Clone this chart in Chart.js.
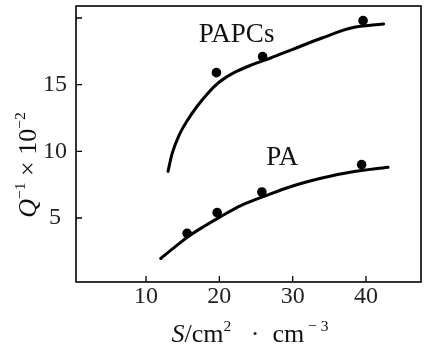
<!DOCTYPE html>
<html>
<head>
<meta charset="utf-8">
<script src="https://cdn.jsdelivr.net/npm/chart.js@4.4.0/dist/chart.umd.min.js"></script>
<style>
    html, body { margin: 0; padding: 0; background: #fff; }
    canvas { display: block; }
</style>
</head>
<body>
<canvas id="chart" width="426" height="345"></canvas>
<script>
// measured points
const papcsX = [19.6, 25.9, 39.6];
const papcsY = [15.9, 17.1, 19.8];
const paX = [15.6, 19.7, 25.8, 39.4];
const paY = [3.85, 5.4, 6.95, 9.0];

// fitted curves
const papcsCurveX = [13.0, 13.6, 14.5, 15.5, 17.0, 18.5, 20.0, 22.0, 24.5, 27.0, 30.0, 34.0, 38.0, 42.4];
const papcsCurveY = [8.5, 9.9, 11.2, 12.2, 13.4, 14.4, 15.2, 15.9, 16.5, 17.0, 17.65, 18.5, 19.25, 19.55];
const paCurveX = [12.0, 14.0, 16.0, 18.0, 20.0, 23.0, 26.0, 30.0, 34.0, 38.0, 43.0];
const paCurveY = [1.96, 2.85, 3.7, 4.4, 5.05, 5.95, 6.6, 7.4, 8.0, 8.45, 8.8];

// axes
const xTicks = [10, 20, 30, 40];
const yTicks = [5, 10, 15, 20];
const yTickLabels = ['5', '10', '15', ''];

const SERIF = '"Liberation Serif", "DejaVu Serif", serif';

function toPoints(xs, ys) {
    return xs.map((x, i) => ({ x: x, y: ys[i] }));
}

// text made of pieces: italic letters and raised exponents
function drawRichText(ctx, parts, size) {
    const fontOf = p => (p.it ? 'italic ' : '') + (p.sup ? size * 0.6 : size) + 'px ' + SERIF;
    let total = 0;
    parts.forEach(p => { ctx.font = fontOf(p); total += ctx.measureText(p.t).width; });
    let x = -total / 2;
    parts.forEach(p => {
        ctx.font = fontOf(p);
        ctx.fillText(p.t, x, p.sup ? -size * 0.42 : 0);
        x += ctx.measureText(p.t).width;
    });
}

// frame, inward ticks, curve names and axis titles
const decorations = {
    id: 'decorations',
    beforeDraw(chart) {
        const ctx = chart.ctx;
        ctx.save();
        ctx.fillStyle = '#fff';
        ctx.fillRect(0, 0, chart.width, chart.height);
        ctx.restore();
    },
    afterDraw(chart) {
        const ctx = chart.ctx;
        const a = chart.chartArea;
        const xs = chart.scales.x;
        const ys = chart.scales.y;
        ctx.save();
        ctx.strokeStyle = '#000';
        ctx.lineWidth = 1.6;
        ctx.strokeRect(a.left, a.top, a.right - a.left, a.bottom - a.top);

        ctx.lineWidth = 1.3;
        ctx.beginPath();
        xTicks.forEach(v => {
            const px = xs.getPixelForValue(v);
            ctx.moveTo(px, a.bottom);
            ctx.lineTo(px, a.bottom - 6);
        });
        yTicks.forEach(v => {
            const py = ys.getPixelForValue(v);
            ctx.moveTo(a.left, py);
            ctx.lineTo(a.left + 6, py);
        });
        ctx.stroke();

        // curve names
        ctx.fillStyle = '#111';
        ctx.font = '27px ' + SERIF;
        ctx.textBaseline = 'alphabetic';
        ctx.textAlign = 'left';
        ctx.fillText('PAPCs', xs.getPixelForValue(17.2), ys.getPixelForValue(18.2));
        ctx.fillText('PA', xs.getPixelForValue(26.4), ys.getPixelForValue(9.0));

        // x title
        ctx.save();
        ctx.translate(250, 342);
        drawRichText(ctx, [
            { t: 'S', it: true }, { t: '/' }, { t: 'cm' }, { t: '2', sup: true },
            { t: '   \u00b7  ' }, { t: 'cm' }, { t: ' \u2212 3', sup: true }
        ], 26);
        ctx.restore();

        // y title
        ctx.save();
        ctx.translate(36, 165);
        ctx.rotate(-Math.PI / 2);
        drawRichText(ctx, [
            { t: 'Q', it: true }, { t: '\u22121', sup: true }, { t: ' \u00d7 ' },
            { t: '10' }, { t: '\u22122', sup: true }
        ], 26);
        ctx.restore();

        ctx.restore();
    }
};

function initializeChart() {
    const ctx = document.getElementById('chart').getContext('2d');
    const curve = { showLine: true, pointRadius: 0, borderColor: '#000', borderWidth: 3,
        tension: 0.35, borderCapStyle: 'round' };
    const dots = { showLine: false, pointRadius: 4.8, pointBackgroundColor: '#000',
        pointBorderColor: '#000', pointBorderWidth: 0 };

    new Chart(ctx, {
        type: 'scatter',
        data: {
            datasets: [
                Object.assign({ label: 'PAPCs fit', data: toPoints(papcsCurveX, papcsCurveY) }, curve),
                Object.assign({ label: 'PA fit', data: toPoints(paCurveX, paCurveY) }, curve),
                Object.assign({ label: 'PAPCs', data: toPoints(papcsX, papcsY) }, dots),
                Object.assign({ label: 'PA', data: toPoints(paX, paY) }, dots)
            ]
        },
        options: {
            responsive: false,
            animation: false,
            devicePixelRatio: 1,
            layout: { padding: { top: 6, right: 5, left: 0, bottom: 0 } },
            plugins: { legend: { display: false }, tooltip: { enabled: false } },
            scales: {
                x: {
                    type: 'linear',
                    min: 0.45,
                    max: 47.5,
                    grid: { display: false },
                    border: { display: false },
                    afterBuildTicks: s => { s.ticks = xTicks.map(v => ({ value: v })); },
                    afterFit: s => { s.height = 63; s.paddingLeft = 0; s.paddingRight = 0; },
                    ticks: { color: '#222', padding: -8, font: { family: SERIF, size: 24 },
                        maxRotation: 0, autoSkip: false }
                },
                y: {
                    type: 'linear',
                    min: 0.2,
                    max: 20.9,
                    grid: { display: false },
                    border: { display: false },
                    afterBuildTicks: s => { s.ticks = yTicks.map(v => ({ value: v })); },
                    afterFit: s => { s.width = 76; s.paddingTop = 0; s.paddingBottom = 0; },
                    ticks: { color: '#222', padding: 1, crossAlign: 'center', autoSkip: false,
                        font: { family: SERIF, size: 24 },
                        callback: (v, i) => yTickLabels[i] }
                }
            }
        },
        plugins: [decorations]
    });
}

document.addEventListener('DOMContentLoaded', initializeChart);
</script>
</body>
</html>
